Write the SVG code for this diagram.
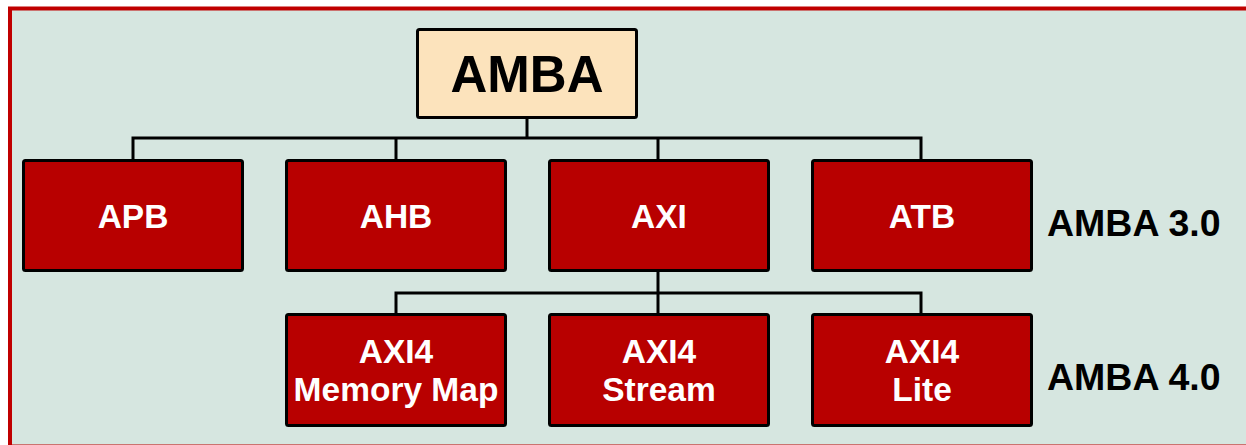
<svg xmlns="http://www.w3.org/2000/svg" width="1246" height="445" viewBox="0 0 1246 445">
  <style>
    .bus { fill: #b80000; stroke: #000; stroke-width: 3; }
    .root { fill: #fce3bc; stroke: #000; stroke-width: 3; }
    .lbl { font-family: "Liberation Sans", Arial, sans-serif; font-weight: bold; fill: #fff; font-size: 33.5px; text-anchor: middle; }
    .title { font-family: "Liberation Sans", Arial, sans-serif; font-weight: bold; fill: #000; font-size: 51px; text-anchor: middle; }
    .ver { font-family: "Liberation Sans", Arial, sans-serif; font-weight: bold; fill: #000; font-size: 37.5px; }
    .wire { fill: none; stroke: #000; stroke-width: 3; }
  </style>

  <!-- page background and frame -->
  <rect x="0" y="0" width="1246" height="445" fill="#ffffff"/>
  <rect x="10" y="8.5" width="1250" height="438" fill="#d6e6e0" stroke="#c00000" stroke-width="4"/>

  <!-- tree connectors -->
  <g id="connectors" class="wire">
    <path d="M527 117 V138"/>
    <path d="M133 160 V138 H921 V160"/>
    <path d="M396 138 V160"/>
    <path d="M658 138 V160"/>
    <path d="M658 270 V314"/>
    <path d="M396 314 V293 H921 V314"/>
  </g>

  <g id="amba">
    <rect class="root" x="417.5" y="29.5" width="219" height="88" rx="2"/>
    <text class="title" x="527" y="92">AMBA</text>
  </g>

  <g id="apb">
    <rect class="bus" x="23.5" y="160.5" width="219" height="110" rx="2"/>
    <text class="lbl" x="133" y="228">APB</text>
  </g>
  <g id="ahb">
    <rect class="bus" x="286.5" y="160.5" width="219" height="110" rx="2"/>
    <text class="lbl" x="396" y="228">AHB</text>
  </g>
  <g id="axi">
    <rect class="bus" x="549.5" y="160.5" width="219" height="110" rx="2"/>
    <text class="lbl" x="659" y="228">AXI</text>
  </g>
  <g id="atb">
    <rect class="bus" x="812.5" y="160.5" width="219" height="110" rx="2"/>
    <text class="lbl" x="922" y="228">ATB</text>
  </g>

  <g id="axi4-mm">
    <rect class="bus" x="286.5" y="314.5" width="219" height="111" rx="2"/>
    <text class="lbl" x="396" y="363">AXI4</text>
    <text class="lbl" x="396" y="401">Memory Map</text>
  </g>
  <g id="axi4-stream">
    <rect class="bus" x="549.5" y="314.5" width="219" height="111" rx="2"/>
    <text class="lbl" x="659" y="363">AXI4</text>
    <text class="lbl" x="659" y="401">Stream</text>
  </g>
  <g id="axi4-lite">
    <rect class="bus" x="812.5" y="314.5" width="219" height="111" rx="2"/>
    <text class="lbl" x="922" y="363">AXI4</text>
    <text class="lbl" x="922" y="401">Lite</text>
  </g>

  <g id="versions">
    <text class="ver" x="1047" y="236">AMBA 3.0</text>
    <text class="ver" x="1047" y="390">AMBA 4.0</text>
  </g>
</svg>
